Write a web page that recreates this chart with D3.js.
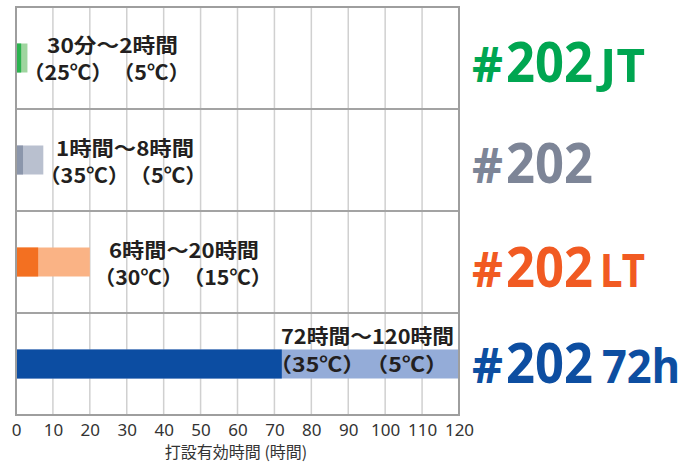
<!DOCTYPE html>
<html><head><meta charset="utf-8">
<script src="https://cdn.jsdelivr.net/npm/d3@7"></script>
<style>html,body{margin:0;padding:0;background:#fff}svg{display:block}</style>
</head><body>
<svg id="c" width="694" height="464"></svg>
<script>
// ---- data ----
const categories = ["#202 JT", "#202", "#202 LT", "#202 72h"];
const productNames = ["202", "202", "202", "202"];
const productSuffix = ["JT", "", "LT", "72h"];
const minHours = [1.4, 1.9, 6, 72];     // dark segment end (warm)
const maxHours = [3.1, 7.4, 20, 120];   // light segment end (cold)
const rangeLabels = ["30分～2時間", "1時間～8時間", "6時間～20時間", "72時間～120時間"];
const tempLabels = ["（25℃）　（5℃）", "（35℃）　（5℃）", "（30℃）　（15℃）", "（35℃）　（5℃）"];
const xTicks = [0,10,20,30,40,50,60,70,80,90,100,110,120];
const xTitle = "打設有効時間 (時間)";

// ---- styles / layout ----
const darkColors = ["#2bb34f", "#8b96ab", "#f37021", "#0c4da2"];
const lightColors = ["#9fd59f", "#b9c0cf", "#fab385", "#94acd8"];
const textColors = ["#00a651", "#7d8597", "#f15a22", "#0d4ea1"];
// label layout: [line1 x, line1 dy, line1 width, line2 x, line2 width, line2 dy]
const labelLayout = [
  [47, -5, 131, 23, 167, 22],
  [56, -4, 138, 39, 168, 23],
  [109, -4, 150, 94, 178, 23],
  [281, -20, 173, 269, 179, 8]
];
const rightDy = [24, 23, 25, 19];

const svg = d3.select("#c");
const x = d3.scaleLinear().domain([0,120]).range([16,459]);
const y = d3.scaleBand().domain(categories).range([7,415]).padding(0);
const barH = 29;

// grid
svg.append("g").selectAll("line").data(xTicks.slice(1, -1)).join("line")
  .attr("x1", d => x(d)).attr("x2", d => x(d))
  .attr("y1", 7).attr("y2", 415)
  .attr("stroke", "#d0d0d0").attr("stroke-width", 1.5);
svg.append("g").selectAll("line").data(categories.slice(1)).join("line")
  .attr("x1", 16).attr("x2", 459)
  .attr("y1", d => y(d)).attr("y2", d => y(d))
  .attr("stroke", "#a3a3a3").attr("stroke-width", 2);

// bars
const rows = categories.map((c,i) => ({c, i}));
svg.append("g").selectAll("rect").data(rows).join("rect")
  .attr("x", x(0)).attr("y", d => y(d.c) + y.bandwidth()/2 - barH/2)
  .attr("width", d => x(maxHours[d.i]) - x(0)).attr("height", barH)
  .attr("fill", d => lightColors[d.i]);
svg.append("g").selectAll("rect").data(rows).join("rect")
  .attr("x", x(0)).attr("y", d => y(d.c) + y.bandwidth()/2 - barH/2)
  .attr("width", d => x(minHours[d.i]) - x(0)).attr("height", barH)
  .attr("fill", d => darkColors[d.i]);

// frame
svg.append("rect").attr("x", 16).attr("y", 7).attr("width", 443).attr("height", 408)
  .attr("fill", "none").attr("stroke", "#9e9e9e").attr("stroke-width", 2);

// axis
const ax = svg.append("g").attr("transform", "translate(0,415)")
  .call(d3.axisBottom(x).tickValues(xTicks).tickSize(0).tickPadding(0));
ax.select(".domain").remove();
ax.selectAll("text").attr("y", 21).attr("dy", 0)
  .attr("font-family", "'Liberation Sans Narrow','Noto Sans',sans-serif")
  .attr("font-size", 17).attr("fill", "#333");

svg.append("text").attr("x", 236).attr("y", 458).attr("text-anchor", "middle")
  .attr("font-family", "'Noto Sans CJK JP',sans-serif").attr("font-size", 16)
  .attr("fill", "#333").text(xTitle);

// range labels
const lab = svg.append("g").attr("font-family", "'Noto Sans CJK JP',sans-serif")
  .attr("font-weight", "bold").attr("font-size", 20).attr("fill", "#231f20");
rows.forEach(d => {
  const cy = y(d.c) + y.bandwidth()/2;
  const L = labelLayout[d.i];
  lab.append("text").attr("x", L[0]).attr("y", cy + L[1])
    .attr("textLength", L[2]).attr("lengthAdjust", "spacingAndGlyphs").text(rangeLabels[d.i]);
  lab.append("text").attr("x", L[3]).attr("y", cy + L[5])
    .attr("textLength", L[4]).attr("lengthAdjust", "spacingAndGlyphs").text(tempLabels[d.i]);
});

// product names
const pg = svg.append("g").attr("font-family", "'Noto Sans','Open Sans',sans-serif")
  .attr("font-weight", "bold");
rows.forEach(d => {
  const by = y(d.c) + y.bandwidth()/2 + rightDy[d.i];
  const col = textColors[d.i];
  pg.append("text").attr("x", 472).attr("y", by).attr("font-size", 48).attr("fill", col)
    .attr("textLength", 31).attr("lengthAdjust", "spacingAndGlyphs").text("#");
  pg.append("text").attr("x", 506).attr("y", by).attr("font-size", 56).attr("fill", col)
    .attr("textLength", 87).attr("lengthAdjust", "spacingAndGlyphs").text(productNames[d.i]);
  if (productSuffix[d.i]) {
    const s = productSuffix[d.i];
    const w = s === "72h" ? 78 : 45;
    pg.append("text").attr("x", s === "72h" ? 602 : 600).attr("y", by).attr("font-size", s === "72h" ? 46 : 47).attr("fill", col)
      .attr("textLength", w).attr("lengthAdjust", "spacingAndGlyphs").text(s);
  }
});
</script>
</body></html>
